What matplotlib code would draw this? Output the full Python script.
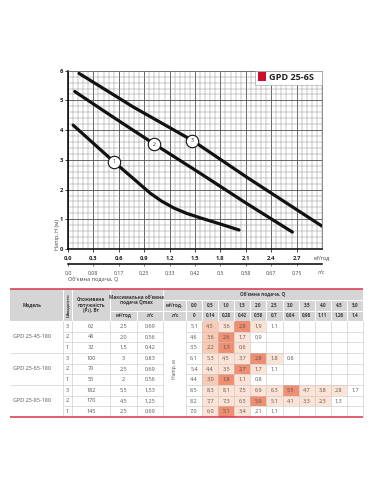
import matplotlib
matplotlib.use('Agg')
import matplotlib.pyplot as plt
from matplotlib.patches import Rectangle
from matplotlib.ticker import MultipleLocator
import numpy as np

plt.rcParams['font.family'] = ['Open Sans', 'DejaVu Sans']

# ---------------- chart data ----------------
q1 = [0.06, 0.54, 0.80, 0.97, 1.10, 1.25, 1.40, 1.56, 1.80, 2.02]
h1 = [4.17, 2.94, 2.30, 1.88, 1.62, 1.38, 1.20, 1.05, 0.84, 0.64]
q2 = [0.08, 0.50, 1.02, 1.56, 2.10, 2.65]
h2 = [5.30, 4.50, 3.53, 2.55, 1.55, 0.57]
q3 = [0.13, 0.77, 1.47, 2.12, 3.00]
h3 = [5.91, 4.78, 3.65, 2.40, 0.77]
curve_labels = ['1', '2', '3']
label_pos = [(0.54, 2.94), (1.02, 3.53), (1.47, 3.65)]

x_ticks = [0.0, 0.3, 0.6, 0.9, 1.2, 1.5, 1.8, 2.1, 2.4, 2.7]
x_ticklabels = ['0,0', '0,3', '0,6', '0,9', '1,2', '1,5', '1,8', '2,1', '2,4', '2,7']
ls_ticklabels = ['0,0', '0,08', '0,17', '0,25', '0,33', '0,42', '0,5', '0,58', '0,67', '0,75']
y_ticks = [0, 1, 2, 3, 4, 5, 6]

# ---------------- table data ----------------
models = ['GPD 25-45-180', 'GPD 25-65-180', 'GPD 25-85-180']
speeds = ['3', '2', '1', '3', '2', '1', '3', '2', '1']
power = ['62', '48', '32', '100', '70', '55', '182', '170', '145']
qmax_m3h = ['2,5', '2,0', '1,5', '3', '2,5', '2', '5,5', '4,5', '2,5']
qmax_ls = ['0,69', '0,56', '0,42', '0,83', '0,69', '0,56', '1,53', '1,25', '0,69']
flow_m3h = ['0,0', '0,5', '1,0', '1,5', '2,0', '2,5', '3,0', '3,5', '4,0', '4,5', '5,0']
flow_ls = ['0', '0,14', '0,28', '0,42', '0,56', '0,7', '0,84', '0,98', '1,11', '1,26', '1,4']
heads = [
    ['5,1', '4,5', '3,6', '2,8', '1,9', '1,1'],
    ['4,6', '3,6', '2,6', '1,7', '0,9'],
    ['3,5', '2,2', '1,3', '0,6'],
    ['6,1', '5,3', '4,5', '3,7', '2,8', '1,8', '0,8'],
    ['5,4', '4,4', '3,5', '2,7', '1,7', '1,1'],
    ['4,4', '3,0', '1,8', '1,1', '0,8'],
    ['8,5', '8,3', '8,1', '7,5', '6,9', '6,3', '5,5', '4,7', '3,8', '2,8', '1,7'],
    ['8,2', '7,7', '7,3', '6,5', '5,9', '5,1', '4,1', '3,3', '2,3', '1,3'],
    ['7,0', '6,0', '5,1', '3,4', '2,1', '1,1'],
]
shade = [
    [0, 2, 1, 3, 1, 0],
    [0, 2, 3, 1, 0],
    [0, 2, 3, 1],
    [0, 1, 1, 1, 3, 1, 0],
    [0, 1, 1, 3, 1, 0],
    [0, 2, 3, 1, 0],
    [0, 1, 1, 1, 1, 1, 3, 1, 1, 1, 0],
    [0, 1, 1, 1, 3, 1, 1, 1, 1, 0],
    [0, 1, 3, 1, 0, 0],
]
shade_colors = ['white', '#fde3d6', '#f9cbb5', '#ef8e70']

W, H = 381, 492
fig = plt.figure(figsize=(W / 100, H / 100), dpi=100)

def fx(px):
    return px / W

def fy(py):
    return 1 - py / H

# ---------------- table (pixel axes) ----------------
tax = fig.add_axes([0, 0, 1, 1])
tax.set_xlim(0, W)
tax.set_ylim(H, 0)
tax.axis('off')
tax.patch.set_alpha(0)

val_x0, val_x1 = 186, 363
n_val = len(flow_m3h)
val_w = (val_x1 - val_x0) / n_val
val_edges = [val_x0 + i * val_w for i in range(n_val + 1)]
hy0, hy1, hy2, hy3 = 289, 300, 310.5, 321
body_bottom = 417
n_rows = len(speeds)
row_h = (body_bottom - hy3) / n_rows

hdr_col = '#d5d5d5'
txt_col = '#555555'
hdr_txt = '#3a3a3a'
line_col = '#c4c4c4'
red = '#d9344a'
model_cx = 32

tax.add_patch(Rectangle((10, hy0), val_x1 - 10, hy3 - hy0, facecolor=hdr_col, edgecolor='none'))
wl = dict(color='white', lw=0.7)
for x in [63, 72, 110, 163]:
    tax.plot([x, x], [hy0, hy3], **wl)
tax.plot([137, 137], [hy2, hy3], **wl)
for x in val_edges[:-1]:
    tax.plot([x, x], [hy1, hy3], **wl)
tax.plot([110, 163], [hy2, hy2], **wl)
tax.plot([163, val_x1], [hy1, hy1], **wl)
tax.plot([163, val_x1], [hy2, hy2], **wl)

hk = dict(ha='center', va='center', fontsize=3.3, fontweight='bold', color=hdr_txt)
tax.text(model_cx, (hy0 + hy3) / 2, 'Модель', **hk)
tax.text(67.5, (hy0 + hy3) / 2, 'Швидкість', rotation=90, **dict(hk, fontsize=3.0))
tax.text(91, (hy0 + hy3) / 2, 'Споживана\nпотужність\n(P\u2081), Вт', linespacing=1.1, **hk)
tax.text(136.5, (hy0 + hy2) / 2, "Максимальна об'ємна\nподача Qmax", linespacing=1.1, **hk)
tax.text(123.5, (hy2 + hy3) / 2, 'м³/год', **hk)
tax.text(150, (hy2 + hy3) / 2, 'л/с', **hk)
tax.text((163 + val_x1) / 2, (hy0 + hy1) / 2, "Об'ємна подача, Q", **hk)
tax.text(174.5, (hy1 + hy2) / 2, 'м³/год.', **hk)
tax.text(174.5, (hy2 + hy3) / 2, 'л/с', **hk)
for i in range(n_val):
    cx = (val_edges[i] + val_edges[i + 1]) / 2
    tax.text(cx, (hy1 + hy2) / 2, flow_m3h[i], **hk)
    tax.text(cx, (hy2 + hy3) / 2, flow_ls[i], **hk)

bk = dict(ha='center', va='center', fontsize=4.0, color=txt_col)
for r in range(n_rows):
    ry0 = hy3 + r * row_h
    cy = ry0 + row_h / 2
    for j, v in enumerate(heads[r]):
        lvl = shade[r][j]
        if lvl:
            tax.add_patch(Rectangle((val_edges[j], ry0), val_w, row_h,
                                    facecolor=shade_colors[lvl], edgecolor='none'))
        tax.text((val_edges[j] + val_edges[j + 1]) / 2, cy, v, **bk)
    tax.text(67.5, cy, speeds[r], **bk)
    tax.text(91, cy, power[r], **bk)
    tax.text(123.5, cy, qmax_m3h[r], **bk)
    tax.text(150, cy, qmax_ls[r], **bk)
for g, m in enumerate(models):
    tax.text(model_cx, hy3 + (3 * g + 1.5) * row_h, m, **bk)
tax.text(174.5, (hy3 + body_bottom) / 2, 'Напір, м', rotation=90, **dict(bk, fontsize=3.6))

gl = dict(color=line_col, lw=0.4)
for r in range(1, n_rows):
    y = hy3 + r * row_h
    x_start = 10 if r % 3 == 0 else 63
    tax.plot([x_start, 163], [y, y], **gl)
    tax.plot([val_x0, val_x1], [y, y], **gl)
for x in [63, 72, 110, 137, 163] + val_edges:
    tax.plot([x, x], [hy3, body_bottom], **gl)

tax.plot([10, val_x1], [hy0, hy0], color=red, lw=1.1, solid_capstyle='butt')
tax.plot([10, val_x1], [body_bottom, body_bottom], color=red, lw=1.1, solid_capstyle='butt')

# ---------------- chart ----------------
ax_l, ax_r, ax_t, ax_b = 68, 322, 70.7, 249
ax = fig.add_axes([fx(ax_l), fy(ax_b), (ax_r - ax_l) / W, (ax_b - ax_t) / H])
ax.set_xlim(0, 3.0)
ax.set_ylim(0, 6)
ax.xaxis.set_major_locator(MultipleLocator(0.3))
ax.xaxis.set_minor_locator(MultipleLocator(0.06))
ax.yaxis.set_major_locator(MultipleLocator(1))
ax.yaxis.set_minor_locator(MultipleLocator(0.2))
ax.grid(which='minor', color='#8f8f8f', lw=0.35)
ax.grid(which='major', color='#505050', lw=0.6)
ax.set_axisbelow(True)
ax.set_xticks(x_ticks)
ax.set_xticklabels(x_ticklabels)
ax.set_yticks(y_ticks)
ax.set_yticklabels([str(v) for v in y_ticks])
ax.tick_params(which='minor', length=0)
ax.tick_params(which='major', length=2, width=0.6, labelsize=4.2, pad=1.5, colors='#222222')
for lab in ax.get_xticklabels() + ax.get_yticklabels():
    lab.set_fontweight('bold')
ax.tick_params(axis='x', pad=3)
for s in ['left', 'bottom']:
    ax.spines[s].set_linewidth(1.1)
    ax.spines[s].set_color('black')
for s in ['top', 'right']:
    ax.spines[s].set_linewidth(0.6)
    ax.spines[s].set_color('#777777')

for q, h in [(q1, h1), (q2, h2), (q3, h3)]:
    ax.plot(q, h, color='#111111', lw=2.3, solid_capstyle='round', solid_joinstyle='round', zorder=3)
for lab, (qx, hy) in zip(curve_labels, label_pos):
    ax.scatter([qx], [hy], s=80, facecolor='white', edgecolor='#111111', linewidth=0.8, zorder=4)
    ax.text(qx, hy, lab, ha='center', va='center', fontsize=3.6, color='#222222', zorder=5)

# legend box (figure level, on top of the chart)
fig.patches.append(Rectangle((fx(255), fy(84.5)), (322 - 255) / W, (84.5 - 70.7) / H,
                             transform=fig.transFigure, facecolor='white', edgecolor='#9a9a9a',
                             lw=0.4, zorder=5))
fig.patches.append(Rectangle((fx(257.5), fy(81)), 8.5 / W, 8.5 / H, transform=fig.transFigure,
                             facecolor='#c8102e', edgecolor='none', zorder=6))
fig.text(fx(269), fy(77), 'GPD 25-6S', fontsize=6.6, fontweight='bold', color='#222222',
         va='center', ha='left', zorder=7)

fig.text(fx(322), fy(258), 'м³/год', fontsize=3.8, color='#333333', ha='center', va='center')
fig.text(fx(57), fy(250), 'Напір, Н (м)', rotation=90, fontsize=4.0, color='#444444',
         ha='center', va='bottom')

# second (l/s) scale
ax2 = fig.add_axes([fx(ax_l), fy(264), (ax_r - ax_l) / W, 0.0001])
ax2.set_xlim(0, 3.0)
ax2.set_ylim(0, 1)
ax2.patch.set_alpha(0)
for s in ['left', 'right', 'top']:
    ax2.spines[s].set_visible(False)
ax2.spines['bottom'].set_linewidth(1.1)
ax2.set_yticks([])
ax2.set_xticks(x_ticks)
ax2.set_xticklabels(ls_ticklabels)
ax2.tick_params(axis='x', length=1.5, width=0.5, labelsize=3.8, pad=3, colors='#444444')
fig.text(fx(322), fy(272.5), 'л/с', fontsize=3.8, color='#444444', ha='center', va='center')
fig.text(fx(68), fy(279.5), "Об'ємна подача, Q", fontsize=4.0, color='#444444', ha='left', va='center')

fig.savefig('out.png', dpi=100)
